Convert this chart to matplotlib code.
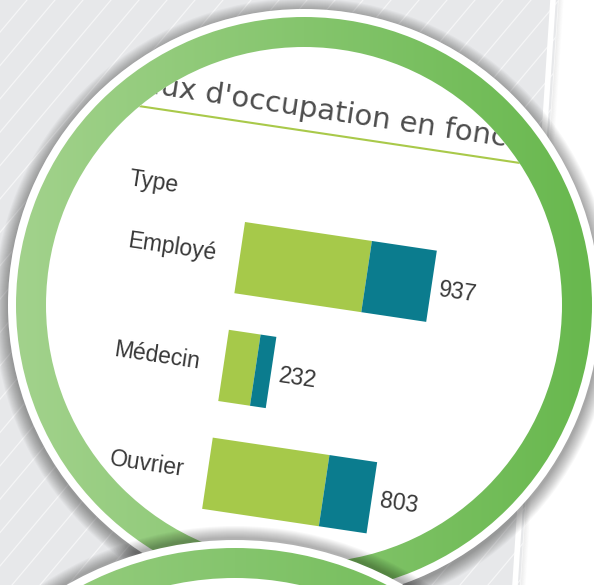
import numpy as np
import matplotlib
matplotlib.use("Agg")
import matplotlib.pyplot as plt
from matplotlib.patches import Circle, Wedge, Polygon
from matplotlib.transforms import Affine2D
from matplotlib.colors import LinearSegmentedColormap

# ---------------- data ----------------
categories = ["Employé", "Médecin", "Ouvrier"]
part_green = [620, 155, 570]
part_teal = [317, 77, 233]
header = "Type"
title = "aux d'occupation en fonct"

totals = [g + t for g, t in zip(part_green, part_teal)]

# ---------------- canvas ----------------
W, H = 594, 585
fig = plt.figure(figsize=(W / 100, H / 100), dpi=100)
fig.patch.set_facecolor("white")
ax = fig.add_axes([0, 0, 1, 1])
ax.axis("off")

# background panel with diagonal stripes
e_top, e_bot = 558, 520
panel = Polygon([(0, 0), (e_top, 0), (e_bot, H), (0, H)], closed=True,
                fc="#e7e8ea", ec="none", zorder=0)
ax.add_patch(panel)
for x0 in np.arange(-520, 620, 28):
    ln, = ax.plot([x0, x0 + 491], [H, 0], color="white", lw=0.9,
                  alpha=0.6, zorder=0.5)
    ln.set_clip_path(panel)
ax.plot([e_top - 5, e_bot - 5], [0, H], color="white", lw=4, zorder=0.6)
for i in range(5):
    ax.plot([e_top + 1 + i, e_bot + 1 + i], [0, H], color="black",
            alpha=0.05 * (5 - i) / 5, lw=1, zorder=0.6)


def gradient_ring(cx, cy, r_out, r_in, c_left, c_right, z):
    cmap = LinearSegmentedColormap.from_list("g", [c_left, c_right])
    grad = np.linspace(0, 1, 256).reshape(1, -1)
    im = ax.imshow(grad, extent=[cx - r_out, cx + r_out, cy + r_out, cy - r_out],
                   cmap=cmap, aspect="auto", zorder=z, interpolation="bilinear")
    ring = Wedge((cx, cy), r_out, 0, 360, width=r_out - r_in,
                 transform=ax.transData)
    im.set_clip_path(ring)


def shadow(cx, cy, r, n, z, a=0.028):
    for i in range(n):
        k = n - i
        ax.add_patch(Wedge((cx, cy), r + k, 0, 360, width=k + 6,
                           fc="black", ec="none", alpha=a, zorder=z))


# ---------------- main circle ----------------
cx, cy = 304, 305
r_white, r_go, r_gi = 296, 288, 258
ax.add_patch(Circle((cx, cy), r_white, fc="white", ec="none", zorder=2))

# ---------------- rotated chart ----------------
ang = 8.5
sx = 0.207  # px per unit
Tpx = Affine2D().rotate_deg(ang).translate(245, 222) + ax.transData
T = Affine2D().scale(sx, 1.0) + Tpx
clip = Circle((cx, cy), r_gi, transform=ax.transData)

green = "#a6c94a"
teal = "#0b7c8e"
bar_h = 72
ypos = np.arange(len(categories)) * 109 + 36

b1 = ax.barh(ypos, part_green, height=bar_h, left=0, color=green,
             transform=T, zorder=4)
b2 = ax.barh(ypos, part_teal, height=bar_h, left=part_green, color=teal,
             transform=T, zorder=4)
for b in list(b1) + list(b2):
    b.set_clip_path(clip)

lab_kw = dict(transform=Tpx, rotation=-ang, rotation_mode="anchor",
              fontsize=16.5, family="Liberation Sans", color="#383838",
              zorder=5)
for i, cat in enumerate(categories):
    ax.text(-24, ypos[i], cat, ha="right", va="center", **lab_kw)
    ax.text(totals[i] * sx + 8, ypos[i] + 2, str(totals[i]), ha="left",
            va="center", **lab_kw)
ax.text(-121, -26, header, ha="left", va="center", **lab_kw)

ax.text(-121, -113, title, transform=Tpx, rotation=-ang,
        rotation_mode="anchor", ha="left", va="baseline", fontsize=21,
        family="DejaVu Sans", color="#4d4d4d", zorder=5)
ul, = ax.plot([-250, 450], [-99, -99], color="#a9c94a", lw=1.5,
              transform=Tpx, zorder=5)
ul.set_clip_path(clip)

# ring (with shadow) on top of chart
shadow(cx, cy + 3, r_white, 14, 6.5)
ax.add_patch(Wedge((cx, cy), r_white, 0, 360, width=r_white - r_gi,
                   fc="white", ec="none", zorder=7))
gradient_ring(cx, cy, r_go, r_gi, "#a2d28c", "#68b84e", 7.5)

# ---------------- second circle (bottom) ----------------
c2x, c2y = 235, 878
r2_white, r2_go, r2_gi = 338, 330, 300
shadow(c2x, c2y - 2, r2_white, 12, 8)
ax.add_patch(Circle((c2x, c2y), r2_white, fc="white", ec="none", zorder=8.5))
gradient_ring(c2x, c2y, r2_go, r2_gi, "#a2d28c", "#68b84e", 9)

ax.set_xlim(0, W)
ax.set_ylim(H, 0)
fig.savefig("out.png", dpi=100, facecolor="white")
